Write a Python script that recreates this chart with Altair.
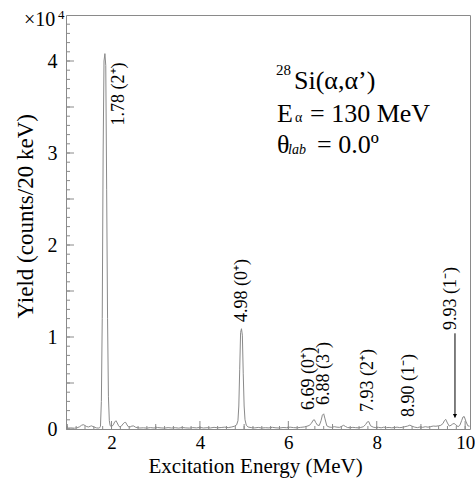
import altair as alt
import pandas as pd

# ---------------- data ----------------
energy = [1.00, 1.08, 1.16, 1.22, 1.28, 1.32, 1.36, 1.40, 1.44, 1.48,
          1.52, 1.55, 1.58, 1.62, 1.66, 1.70, 1.73, 1.75, 1.77, 1.79,
          1.81, 1.83, 1.85, 1.87, 1.89, 1.91, 1.93, 1.95, 1.97, 2.00,
          2.04, 2.07, 2.10, 2.13, 2.16, 2.19, 2.22, 2.26, 2.29, 2.32,
          2.35, 2.38, 2.42, 2.46, 2.50, 2.54, 2.58, 2.64, 2.72, 2.80,
          2.88, 2.96, 3.04, 3.12, 3.20, 3.28, 3.36, 3.44, 3.52, 3.60,
          3.68, 3.76, 3.84, 3.92, 4.00, 4.08, 4.16, 4.24, 4.32, 4.40,
          4.48, 4.56, 4.64, 4.72, 4.78, 4.83, 4.86, 4.88, 4.90, 4.92,
          4.94, 4.96, 4.98, 5.00, 5.02, 5.05, 5.09, 5.16, 5.24, 5.32,
          5.40, 5.48, 5.56, 5.64, 5.72, 5.80, 5.88, 5.96, 6.04, 6.12,
          6.20, 6.28, 6.36, 6.42, 6.47, 6.52, 6.56, 6.59, 6.62, 6.66,
          6.70, 6.74, 6.77, 6.80, 6.83, 6.87, 6.92, 6.98, 7.04, 7.10,
          7.16, 7.21, 7.25, 7.29, 7.34, 7.40, 7.46, 7.52, 7.58, 7.64,
          7.70, 7.75, 7.79, 7.82, 7.86, 7.92, 7.98, 8.04, 8.10, 8.16,
          8.22, 8.28, 8.34, 8.40, 8.46, 8.52, 8.58, 8.64, 8.70, 8.75,
          8.80, 8.86, 8.92, 8.98, 9.04, 9.10, 9.16, 9.22, 9.28, 9.34,
          9.40, 9.45, 9.50, 9.53, 9.56, 9.60, 9.64, 9.68, 9.72, 9.75,
          9.79, 9.84, 9.88, 9.92, 9.95, 9.98, 10.02, 10.06, 10.10]
counts = [100, 120, 90, 130, 250, 400, 470, 380, 260, 220,
          300, 340, 260, 180, 120, 100, 130, 300, 3000, 12000,
          30000, 40000, 40800, 39500, 26000, 12000, 3500, 900, 350, 250,
          450, 750, 900, 650, 350, 200, 300, 550, 700, 720,
          450, 250, 220, 320, 330, 200, 150, 110, 130, 100,
          150, 110, 160, 120, 100, 150, 110, 140, 100, 160,
          120, 100, 150, 120, 170, 110, 140, 120, 180, 130,
          160, 200, 150, 220, 300, 450, 900, 2500, 6500, 10500,
          10900, 10200, 6000, 2500, 1000, 400, 220, 150, 120, 170,
          110, 140, 120, 180, 130, 110, 160, 140, 200, 150,
          130, 180, 220, 300, 380, 600, 950, 1000, 700, 420,
          380, 900, 1500, 1650, 1100, 350, 220, 180, 250, 200,
          180, 300, 400, 280, 160, 140, 180, 150, 130, 170,
          250, 500, 780, 800, 350, 200, 150, 180, 130, 200,
          150, 170, 130, 160, 200, 150, 180, 250, 320, 420,
          300, 200, 150, 220, 180, 250, 200, 260, 320, 300,
          350, 400, 600, 900, 1050, 650, 320, 400, 550, 600,
          450, 250, 400, 900, 1300, 1350, 800, 350, 300]
assert len(energy) == len(counts)

peak_labels = ["1.78 (2\u207a)", "4.98 (0\u207a)", "6.69 (0\u207a)", "6.88 (3\u207b)",
               "7.93 (2\u207a)", "8.90 (1\u207b)", "9.93 (1\u207b)"]
label_energy = [2.158, 4.952, 6.468, 6.807, 7.800, 8.741, 9.680]
label_counts = [33000, 11630, 2065, 2609, 1848, 1304, 10761]

arrow_energy = [9.77]
arrow_top = [10400]
arrow_bottom = [1250]
arrow_head = [1420]

x_labels = [2, 4, 6, 8, 10]
x_mid_ticks = [1, 3, 5, 7, 9]
x_minor_ticks = [round(1.0 + 0.2 * i, 1) for i in range(46)]
y_labels = [0, 10000, 20000, 30000, 40000]
y_mid_ticks = [5000, 15000, 25000, 35000]
y_minor_ticks = [1000 * i for i in range(45)]

X_DOMAIN = [0.97, 10.11]
Y_DOMAIN = [0, 45000]
W, H = 404, 414
FONT = "Liberation Serif"
GRAY = "#8a8a8a"

xs = alt.Scale(domain=X_DOMAIN, nice=False, zero=False)
ys = alt.Scale(domain=Y_DOMAIN, nice=False, zero=False)

x_axis = alt.Axis(
    values=x_labels, ticks=False, domain=False, grid=False, labelFlush=False,
    labelFont=FONT, labelFontSize=19, labelColor="black", labelPadding=4,
    title="Excitation Energy (MeV)", titleFont=FONT, titleFontSize=21,
    titleFontWeight="normal", titleColor="black", titleAlign="left",
    titleX=82, titleY=43, titleBaseline="alphabetic")
y_axis = alt.Axis(
    values=y_labels, labelExpr="datum.value / 10000", ticks=False, domain=False,
    grid=False, labelFont=FONT, labelFontSize=20, labelColor="black", labelPadding=9,
    title="Yield (counts/20 keV)", titleFont=FONT, titleFontSize=23,
    titleFontWeight="normal", titleColor="black", titleAngle=270, titleAlign="left",
    titleX=-34, titleY=303, titleBaseline="alphabetic")


def X():
    return alt.X("E:Q", scale=xs, axis=x_axis)


def Y():
    return alt.Y("C:Q", scale=ys, axis=y_axis)


spec_df = pd.DataFrame({"E": energy, "C": counts})
spectrum = alt.Chart(spec_df).mark_line(color=GRAY, strokeWidth=1, clip=True).encode(x=X(), y=Y())


def xtick_layer(vals, length):
    return alt.Chart(pd.DataFrame({"E": vals})).mark_rule(color=GRAY, strokeWidth=1).encode(
        x=X(), y=alt.value(H), y2=alt.value(H - length))


def ytick_layer(vals, length):
    return alt.Chart(pd.DataFrame({"C": vals})).mark_rule(color=GRAY, strokeWidth=1).encode(
        y=Y(), x=alt.value(0), x2=alt.value(length))


labels_df = pd.DataFrame({"E": label_energy, "C": label_counts, "t": peak_labels})
labels = alt.Chart(labels_df).mark_text(
    angle=270, align="left", baseline="middle", font=FONT, fontSize=18, color="black"
).encode(x=X(), y=Y(), text="t:N")

arrow_df = pd.DataFrame({"E": arrow_energy, "C": arrow_top, "C2": arrow_bottom})
arrow_line = alt.Chart(arrow_df).mark_rule(color="black", strokeWidth=1).encode(
    x=X(), y=Y(), y2="C2:Q")
head_df = pd.DataFrame({"E": arrow_energy, "C": arrow_head})
arrow_tip = alt.Chart(head_df).mark_point(
    shape="triangle-down", filled=True, color="black", size=18, opacity=1
).encode(x=X(), y=Y())


def txt(s, x, y, size, style="normal"):
    return alt.Chart(pd.DataFrame({"t": [s]})).mark_text(
        align="left", baseline="alphabetic", font=FONT, fontSize=size,
        fontStyle=style, color="black"
    ).encode(x=alt.value(x), y=alt.value(y), text="t:N")


annotations = [
    txt("28", 210, 60, 15),
    txt("Si(\u03b1,\u03b1\u2019)", 228, 74, 26),
    txt("E", 211, 107, 26),
    txt("\u03b1", 229, 107, 14),
    txt("= 130 MeV", 244, 107, 26),
    txt("\u03b8", 211, 138, 26),
    txt("lab", 222, 139, 14, "italic"),
    txt("= 0.0\u00ba", 251, 138, 26),
    txt("\u00d710", -42, 11, 20),
    txt("4", -8, 4, 13),
]

chart = alt.layer(
    spectrum,
    xtick_layer(x_minor_ticks, 3), xtick_layer(x_mid_ticks, 5), xtick_layer(x_labels, 8),
    ytick_layer(y_minor_ticks, 4), ytick_layer(y_mid_ticks, 8), ytick_layer(y_labels, 8),
    labels, arrow_line, arrow_tip, *annotations
).properties(
    width=W, height=H,
    autosize=alt.AutoSizeParams(type="none"),
    padding={"left": 66, "top": 15, "right": 5, "bottom": 50},
    background="white",
).configure_view(stroke=GRAY, strokeWidth=1)

chart.save("out.html", embed_options={"renderer": "svg", "actions": False})
